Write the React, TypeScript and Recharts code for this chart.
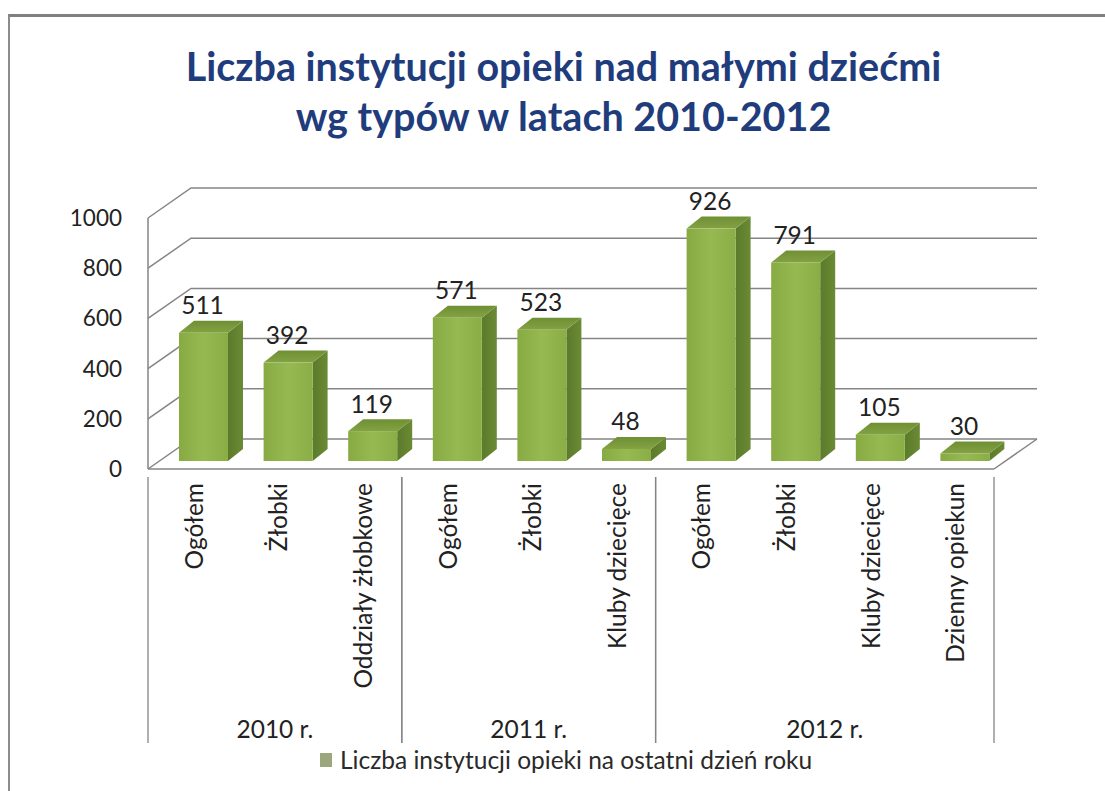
import React from "react";
import { BarChart, Bar, XAxis, YAxis, CartesianGrid, Legend, LabelList } from "recharts";

const categories = ["Ogółem", "Żłobki", "Oddziały żłobkowe", "Ogółem", "Żłobki", "Kluby dziecięce", "Ogółem", "Żłobki", "Kluby dziecięce", "Dzienny opiekun"];
const values = [511, 392, 119, 571, 523, 48, 926, 791, 105, 30];
const yearGroups = [
  { label: "2010 r.", start: 0, end: 3 },
  { label: "2011 r.", start: 3, end: 6 },
  { label: "2012 r.", start: 6, end: 10 },
];
const yTicks = [0, 200, 400, 600, 800, 1000];
const seriesName = "Liczba instytucji opieki na ostatni dzień roku";
const titleLines = ["Liczba instytucji opieki nad małymi dziećmi", "wg typów w latach 2010-2012"];

const data = categories.map((name, i) => ({ name, value: values[i] }));

const FONT = "Lato, 'Open Sans', sans-serif";
const W = 1105, H = 791;
const LEFT = 148, RIGHT = 994, TOP = 218, BOTTOM = 469;
const STEP = (RIGHT - LEFT) / categories.length;
const DEPTH_X = 43, DEPTH_Y = 30;
const BAR_DX = 13, BAR_DY = -8, SIDE_X = 15, SIDE_Y = 12;
const GRID = "#858585";
const TEXT = "#222222";

function Bar3D(props: any) {
  const { x, y, width, height } = props;
  const fx = x + BAR_DX, fy = y + BAR_DY;
  const h = Math.max(height, 0);
  return (
    <g>
      <polygon
        points={`${fx + width},${fy} ${fx + width + SIDE_X},${fy - SIDE_Y} ${fx + width + SIDE_X},${fy + h - SIDE_Y} ${fx + width},${fy + h}`}
        fill="url(#barSide)"
      />
      <polygon
        points={`${fx},${fy} ${fx + SIDE_X},${fy - SIDE_Y} ${fx + width + SIDE_X},${fy - SIDE_Y} ${fx + width},${fy}`}
        fill="url(#barTop)"
      />
      <rect x={fx} y={fy} width={width} height={h} fill="url(#barFace)" />
    </g>
  );
}

function GridLine(props: any) {
  const { x1, y1, x2 } = props;
  const isFloor = y1 >= BOTTOM - 1;
  const by = y1 - DEPTH_Y;
  return (
    <g>
      <polyline points={`${x1},${y1} ${x1 + DEPTH_X},${by} ${x2 + DEPTH_X},${by}`} fill="none" stroke={GRID} strokeWidth={1.5} />
      {isFloor && <line x1={x2} y1={y1} x2={x2 + DEPTH_X} y2={by} stroke={GRID} strokeWidth={1.5} />}
    </g>
  );
}

function CategoryTick(props: any) {
  const { x, y, index } = props;
  const group = yearGroups.find((g) => index >= g.start && index < g.end);
  const textY = 483;
  const dividerBottom = 743;
  const left = x - STEP / 2;
  const right = x + STEP / 2;
  return (
    <g>
      <text
        x={x + 3}
        y={textY}
        transform={`rotate(-90 ${x + 3} ${textY})`}
        textAnchor="end"
        dominantBaseline="central"
        fill={TEXT}
        fontFamily={FONT}
        fontSize={24.5}
      >
        {categories[index]}
      </text>
      {group && group.start === index && <line x1={left} y1={y} x2={left} y2={dividerBottom} stroke={GRID} strokeWidth={1.3} />}
      {group && group.end - 1 === index && <line x1={right} y1={y} x2={right} y2={dividerBottom} stroke={GRID} strokeWidth={1.3} />}
      {group && index === group.start && (
        <text
          x={left + ((group.end - group.start) * STEP) / 2}
          y={728}
          textAnchor="middle"
          dominantBaseline="central"
          fill={TEXT}
          fontFamily={FONT}
          fontSize={24.5}
        >
          {group.label}
        </text>
      )}
    </g>
  );
}

function ValueLabel(props: any) {
  const { x, y, width, value } = props;
  return (
    <text
      x={x + BAR_DX + width / 2 - 1}
      y={y - 36}
      textAnchor="middle"
      dominantBaseline="central"
      fill={TEXT}
      fontFamily={FONT}
      fontSize={24.5}
    >
      {value}
    </text>
  );
}

function LegendContent() {
  return (
    <div style={{ position: "absolute", left: 0, top: 0, display: "flex", alignItems: "center", fontFamily: FONT, fontSize: 24.5, color: "#2a2a2a", lineHeight: "26px", whiteSpace: "nowrap" }}>
      <span style={{ display: "inline-block", width: 12, height: 14, background: "#9ca67c", marginRight: 8 }} />
      {seriesName}
    </div>
  );
}

export default function App() {
  return (
    <div style={{ position: "absolute", left: 0, top: 0, width: W, height: H, background: "#fff", overflow: "hidden" }}>
      <div style={{ position: "absolute", left: 8, top: 14, right: 0, bottom: 0, borderLeft: "2px solid #8c8c8c", borderTop: "3px solid #808080" }} />
      <div style={{ position: "absolute", left: 0, width: 1127, top: 41, textAlign: "center", fontFamily: FONT, fontWeight: 700, fontSize: 39.5, lineHeight: "50px", color: "#1f3c7c" }}>
        {titleLines.map((t) => (
          <div key={t}>{t}</div>
        ))}
      </div>
      <div style={{ position: "absolute", left: 0, top: 0 }}>
        <BarChart
          width={W}
          height={H}
          data={data}
          barSize={49}
          margin={{ top: TOP, left: 0, right: W - RIGHT, bottom: 0 }}
        >
          <defs>
            <linearGradient id="barFace" x1="0" y1="0" x2="1" y2="0">
              <stop offset="0" stopColor="#87aa42" />
              <stop offset="0.5" stopColor="#96b952" />
              <stop offset="1" stopColor="#8aad45" />
            </linearGradient>
            <linearGradient id="barTop" x1="0" y1="0" x2="0" y2="1">
              <stop offset="0" stopColor="#6f8f34" />
              <stop offset="1" stopColor="#83a243" />
            </linearGradient>
            <linearGradient id="barSide" x1="0" y1="0" x2="1" y2="0">
              <stop offset="0" stopColor="#5c7b2b" />
              <stop offset="1" stopColor="#6a8a34" />
            </linearGradient>
          </defs>
          <CartesianGrid vertical={false} horizontal={(p: any) => <GridLine key={p.key} {...p} />} />
          <XAxis
            dataKey="name"
            interval={0}
            height={H - BOTTOM}
            tickLine={false}
            axisLine={{ stroke: GRID, strokeWidth: 1.5 }}
            tick={(p: any) => <CategoryTick {...p} />}
          />
          <YAxis
            width={LEFT}
            domain={[0, 1000]}
            ticks={yTicks}
            tickLine={false}
            axisLine={{ stroke: GRID, strokeWidth: 1.5 }}
            tick={{ fill: TEXT, fontFamily: FONT, fontSize: 22.5 }}
            tickMargin={20}
          />
          <Bar dataKey="value" name={seriesName} fill="#8fb04a" shape={<Bar3D />} isAnimationActive={false}>
            <LabelList dataKey="value" content={<ValueLabel />} />
          </Bar>
          <Legend content={<LegendContent />} wrapperStyle={{ position: "absolute", left: 320, top: 747, width: 0, height: 0, bottom: "auto" }} />
        </BarChart>
      </div>
    </div>
  );
}
